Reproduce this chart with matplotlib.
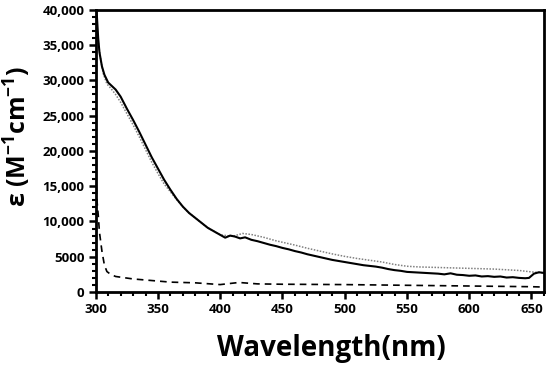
import matplotlib.pyplot as plt
from matplotlib.ticker import MultipleLocator, FixedLocator

# solid curve
wl_solid = [300, 301, 302, 303, 305, 307, 310, 313, 316, 320, 325, 330, 335, 340, 345,
            350, 355, 360, 365, 370, 375, 380, 385, 390, 395, 400, 404, 408, 412, 416,
            420, 425, 430, 435, 440, 445, 450, 455, 460, 465, 470, 475, 480, 485, 490,
            495, 500, 505, 510, 515, 520, 525, 530, 535, 540, 545, 550, 555, 560, 565,
            570, 575, 580, 585, 590, 595, 600, 605, 610, 615, 620, 625, 630, 635, 640,
            645, 648, 652, 656, 660]
eps_solid = [40500, 39000, 36000, 34000, 32000, 30800, 29700, 29200, 28700, 27700, 26000,
             24400, 22700, 20900, 19100, 17500, 15900, 14500, 13200, 12100, 11200, 10500,
             9800, 9100, 8600, 8100, 7700, 8000, 7850, 7600, 7750, 7400, 7200, 6950, 6700,
             6500, 6250, 6050, 5800, 5600, 5350, 5150, 4950, 4750, 4550, 4400, 4250, 4100,
             3950, 3800, 3700, 3600, 3450, 3250, 3100, 3000, 2850, 2800, 2750, 2700, 2650,
             2600, 2500, 2650, 2450, 2400, 2300, 2350, 2200, 2250, 2150, 2200, 2050, 2100,
             2000, 1950, 2000, 2600, 2800, 2700]

# dotted curve
wl_dot = [300, 302, 304, 306, 309, 312, 316, 320, 325, 330, 335, 340, 345, 350, 355, 360,
          365, 370, 375, 380, 390, 400, 410, 418, 425, 430, 435, 440, 445, 450, 460, 470,
          480, 490, 500, 510, 520, 530, 540, 550, 560, 570, 580, 590, 600, 610, 620, 630,
          640, 650, 660]
eps_dot = [40500, 35500, 33000, 31000, 29500, 28900, 28000, 26900, 25300, 23700, 22000,
           20200, 18400, 16800, 15300, 14200, 13100, 12100, 11200, 10500, 9100, 8100, 7900,
           8300, 8150, 7950, 7750, 7500, 7250, 7050, 6650, 6200, 5800, 5400, 5050, 4750,
           4500, 4250, 3900, 3650, 3550, 3500, 3450, 3400, 3350, 3300, 3250, 3150, 3050,
           2850, 2700]

# dashed curve
wl_dash = [300, 301, 302, 303, 305, 307, 309, 312, 316, 320, 330, 340, 350, 360, 380, 400,
           415, 430, 450, 500, 550, 600, 650, 660]
eps_dash = [16500, 13000, 11000, 8500, 5800, 3800, 2900, 2500, 2200, 2100, 1850, 1700, 1550,
            1400, 1300, 1050, 1350, 1150, 1100, 1050, 950, 850, 750, 700]

y_ticks = [0, 5000, 10000, 15000, 20000, 25000, 30000, 35000, 40000]
y_labels = ['0', '5000', '10,000', '15,000', '20,000', '25,000', '30,000', '35,000', '40,000']
x_ticks = [300, 350, 400, 450, 500, 550, 600, 650]

plt.rcParams['font.family'] = ['Open Sans', 'DejaVu Sans']
plt.rcParams['mathtext.fontset'] = 'custom'
plt.rcParams['mathtext.rm'] = 'Open Sans:bold'
plt.rcParams['mathtext.default'] = 'rm'

fig = plt.figure(figsize=(5.5, 3.65), dpi=100)
ax = fig.add_axes([0.174, 0.2, 0.815, 0.773])

ax.plot(wl_dot, eps_dot, color='#808080', linestyle=(0, (1, 1)), linewidth=1.1)
ax.plot(wl_solid, eps_solid, color='black', linewidth=1.5)
ax.plot(wl_dash, eps_dash, color='black', linestyle=(0, (4, 3)), linewidth=1.2)

ax.set_xlim(300, 660)
ax.set_ylim(0, 40000)
ax.xaxis.set_major_locator(FixedLocator(x_ticks))
ax.xaxis.set_minor_locator(MultipleLocator(10))
ax.yaxis.set_major_locator(FixedLocator(y_ticks))
ax.yaxis.set_minor_locator(MultipleLocator(1000))
ax.set_yticklabels(y_labels)

for s in ax.spines.values():
    s.set_linewidth(2)
ax.tick_params(which='major', direction='out', length=5, width=1.8, labelsize=9.5, pad=3)
ax.tick_params(which='minor', direction='out', length=3, width=1.5)
for lab in ax.get_xticklabels() + ax.get_yticklabels():
    lab.set_fontweight('bold')

ax.set_xlabel('Wavelength(nm)', fontsize=20, fontweight='bold')
ax.xaxis.set_label_coords(0.525, -0.15)
ax.set_ylabel(r'ε (M$^{-1}$cm$^{-1}$)', fontsize=18, fontweight='bold')
ax.yaxis.set_label_coords(-0.14, 0.55)

fig.savefig('out.png', dpi=100)
